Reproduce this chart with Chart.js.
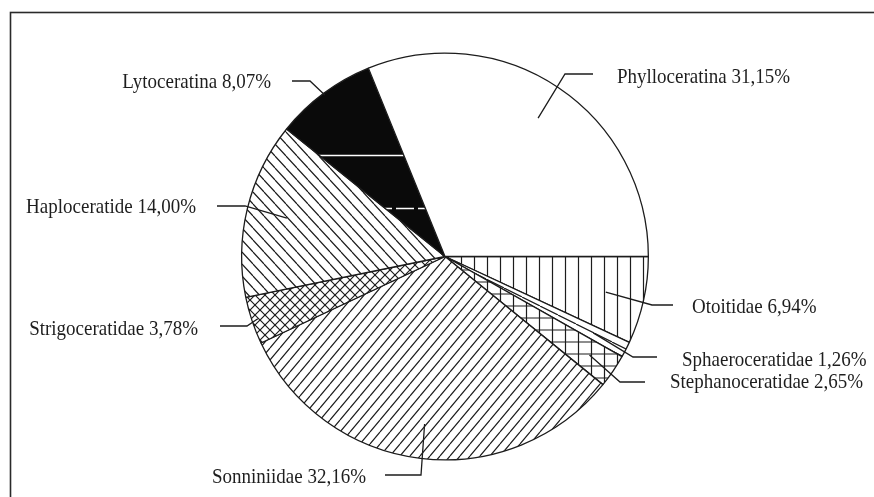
<!DOCTYPE html>
<html>
<head>
<meta charset="utf-8">
<script src="https://cdn.jsdelivr.net/npm/chart.js@4"></script>
<style>
  html, body { margin: 0; padding: 0; background: #fff; }
  canvas { display: block; }
</style>
</head>
<body>
<canvas id="graficoAmonites" width="874" height="497"></canvas>
<script>
// datos, en el orden de las agujas del reloj desde las 3
const familias = ['Otoitidae', 'Sphaeroceratidae', 'Stephanoceratidae', 'Sonniniidae',
                  'Strigoceratidae', 'Haploceratide', 'Lytoceratina', 'Phylloceratina'];
const porcentajes = [6.94, 1.26, 2.65, 32.16, 3.78, 14.00, 8.07, 31.15];

// posicion de cada rotulo: donde arranca la guia (fraccion del radio), codo, fin y texto
const rotulos = [
    { frac: 0.81, codo: [652, 305], fin: [673, 305], texto: [692, 313], align: 'left' },
    { frac: 0.82, codo: [633, 357], fin: [657, 357], texto: [682, 366], align: 'left' },
    { frac: 0.86, codo: [620, 382], fin: [645, 382], texto: [670, 388], align: 'left' },
    { frac: 0.83, codo: [421, 475], fin: [385, 475], texto: [366, 483], align: 'right' },
    { frac: 0.97, codo: [247, 326], fin: [220, 326], texto: [198, 335], align: 'right' },
    { frac: 0.80, codo: [245, 206], fin: [217, 206], texto: [196, 213], align: 'right' },
    { frac: 0.99, codo: [310, 81], fin: [292, 81], texto: [271, 88], align: 'right' },
    { frac: 0.82, codo: [565, 74], fin: [593, 74], texto: [617, 83], align: 'left' }
];

const TINTA = '#1c1c1c';

function trama(w, h, dibujar, fondo) {
    const c = document.createElement('canvas');
    c.width = w;
    c.height = h;
    const g = c.getContext('2d');
    g.fillStyle = fondo || '#fff';
    g.fillRect(0, 0, w, h);
    g.strokeStyle = TINTA;
    g.lineWidth = 1.2;
    dibujar(g, w, h);
    return g.createPattern(c, 'repeat');
}

function barraInvertida(g, w, h) { // "\"
    g.beginPath();
    [-w, 0, w].forEach(dx => { g.moveTo(dx, 0); g.lineTo(dx + w, h); });
    g.stroke();
}
function barra(g, w, h) { // "/"
    g.beginPath();
    [-w, 0, w].forEach(dx => { g.moveTo(dx, h); g.lineTo(dx + w, 0); });
    g.stroke();
}

document.addEventListener('DOMContentLoaded', function () {
    const ctx = document.getElementById('graficoAmonites').getContext('2d');

    const rellenos = [
        trama(13, 13, (g) => { g.beginPath(); g.moveTo(6.5, 0); g.lineTo(6.5, 13); g.stroke(); }),
        trama(18, 9, barraInvertida),
        trama(13, 12, (g) => {
            g.beginPath();
            g.moveTo(6.5, 0); g.lineTo(6.5, 12);
            g.moveTo(0, 6); g.lineTo(13, 6);
            g.stroke();
        }),
        trama(10, 12, barra),
        trama(10, 10, (g, w, h) => { barra(g, w, h); barraInvertida(g, w, h); }),
        trama(11, 12, barraInvertida),
        trama(22, 159, (g) => {
            g.strokeStyle = '#fff';
            g.lineWidth = 1.3;
            g.beginPath();
            g.moveTo(0, 49.5); g.lineTo(18, 49.5);
            g.moveTo(0, 155.5); g.lineTo(22, 155.5);
            g.stroke();
        }, '#0a0a0a'),
        '#ffffff'
    ];

    const marcoYRotulos = {
        id: 'marcoYRotulos',
        afterDraw(chart) {
            const c = chart.ctx;
            c.save();
            c.strokeStyle = '#2a2a2a';
            c.lineWidth = 1.6;
            c.strokeRect(10.5, 12.5, 900, 520);

            const arcos = chart.getDatasetMeta(0).data;
            c.strokeStyle = TINTA;
            c.lineWidth = 1.3;
            c.fillStyle = '#1e1e1e';
            c.font = '19px "Liberation Serif", "Times New Roman", serif';
            c.textBaseline = 'alphabetic';
            rotulos.forEach((r, i) => {
                const a = arcos[i];
                const medio = (a.startAngle + a.endAngle) / 2;
                const x0 = a.x + Math.cos(medio) * a.outerRadius * r.frac;
                const y0 = a.y + Math.sin(medio) * a.outerRadius * r.frac;
                c.beginPath();
                c.moveTo(x0, y0);
                c.lineTo(r.codo[0], r.codo[1]);
                c.lineTo(r.fin[0], r.fin[1]);
                c.stroke();

                const txt = familias[i] + ' ' + porcentajes[i].toFixed(2).replace('.', ',') + '%';
                c.save();
                c.translate(r.texto[0], r.texto[1]);
                c.scale(1, 1.08);
                c.textAlign = r.align;
                c.fillText(txt, 0, 0);
                c.restore();
            });
            c.restore();
        }
    };

    new Chart(ctx, {
        type: 'pie',
        data: {
            labels: familias,
            datasets: [{
                data: porcentajes,
                backgroundColor: rellenos,
                borderColor: TINTA,
                borderWidth: 1.3
            }]
        },
        options: {
            responsive: false,
            animation: false,
            devicePixelRatio: 1,
            rotation: 90,
            layout: { padding: { top: 52.5, bottom: 36.5, left: 241, right: 225 } },
            plugins: {
                legend: { display: false },
                tooltip: { enabled: false }
            }
        },
        plugins: [marcoYRotulos]
    });
});
</script>
</body>
</html>
